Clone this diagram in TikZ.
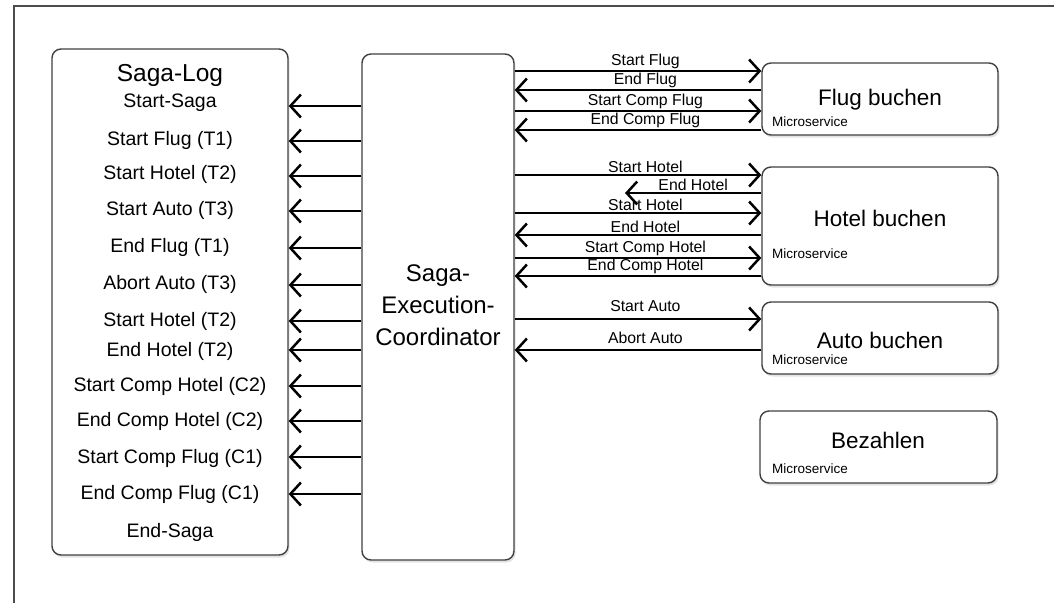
\documentclass[tikz,border=0pt]{standalone}
\usepackage{fontspec}
\setmainfont{Liberation Sans}
\usetikzlibrary{arrows.meta,positioning,shadows}
\tikzset{
  frame/.style={draw=black!70, line width=2pt},
  box/.style={draw=black!75, line width=1.4pt, rounded corners=9pt, fill=white,
              drop shadow={opacity=0.22, shadow xshift=1.5pt, shadow yshift=-2.5pt}},
  logtxt/.style={font=\fontsize{19.5}{22}\selectfont, inner sep=0pt},
  logtitle/.style={font=\fontsize{24.5}{28}\selectfont, inner sep=0pt},
  headtxt/.style={font=\fontsize{22.5}{26}\selectfont, inner sep=0pt},
  coordtxt/.style={font=\fontsize{24}{32}\selectfont, align=center, inner sep=0pt},
  svctag/.style={font=\fontsize{13.5}{15}\selectfont, anchor=west, inner sep=0pt},
  msglbl/.style={font=\fontsize{15.8}{18}\selectfont, inner sep=0.5pt, above},
  msg/.style={line width=2.8pt, draw=black,
              -{Straight Barb[length=10.5pt, width=23pt, line width=2.5pt]}},
}

\begin{document}
\begin{tikzpicture}[x=1pt, y=-1pt]
  \useasboundingbox (0,0) rectangle (1054,603);

  % ── outer frame (only top and left edge visible) ──
  \draw[frame] (14,603) -- (14,6) -- (1054,6);

  % ── main boxes ──
  \node[box, minimum width=236pt, minimum height=506pt] (log) at (170,302) {};
  \node[box, minimum width=152pt, minimum height=506pt] (sec) at (438,307) {};
  \node[box, minimum width=236pt, minimum height=72pt]  (flug)  at (880,99) {};
  \node[box, minimum width=236pt, minimum height=118pt] (hotel) at (880,226) {};
  \node[box, minimum width=236pt, minimum height=72pt]  (auto)  at (880,338) {};
  \node[box, minimum width=237pt, minimum height=72pt]  (pay)   at (878.5,447) {};

  % ── Saga-Log entries ──
  \node[logtitle] (logt) at (170,75) {Saga-Log};
  \node[logtxt] (lg0)  at (170,103) {Start-Saga};
  \node[logtxt] (lg1)  at (170,140) {Start Flug (T1)};
  \node[logtxt] (lg2)  at (170,174) {Start Hotel (T2)};
  \node[logtxt] (lg3)  at (170,210) {Start Auto (T3)};
  \node[logtxt] (lg4)  at (170,247) {End Flug (T1)};
  \node[logtxt] (lg5)  at (170,284) {Abort Auto (T3)};
  \node[logtxt] (lg6)  at (170,321) {Start Hotel (T2)};
  \node[logtxt] (lg7)  at (170,351) {End Hotel (T2)};
  \node[logtxt] (lg8)  at (170,386) {Start Comp Hotel (C2)};
  \node[logtxt] (lg9)  at (170,421) {End Comp Hotel (C2)};
  \node[logtxt] (lg10) at (170,458) {Start Comp Flug (C1)};
  \node[logtxt] (lg11) at (170,494) {End Comp Flug (C1)};
  \node[logtxt] (lg12) at (170,532) {End-Saga};

  % ── coordinator text ──
  \node[coordtxt] (sectxt) at (438,305) {Saga-\\Execution-\\Coordinator};

  % ── service titles ──
  \node[headtxt] (flugt)  at (880,100) {Flug buchen};
  \node[headtxt] (hotelt) at (880,218) {Hotel buchen};
  \node[headtxt] (autot)  at (880,340) {Auto buchen};
  \node[headtxt] (payt)   at (878,440) {Bezahlen};
  \node[svctag] (flugm)  at (772,122) {Microservice};
  \node[svctag] (hotelm) at (772,254) {Microservice};
  \node[svctag] (autom)  at (772,360) {Microservice};
  \node[svctag] (paym)   at (772,469) {Microservice};

  % ── log writes: coordinator -> Saga-Log ──
  \foreach \y in {106,141,176,211,248,285,321,350,386,421,457,494} {
    \coordinate (w) at (0,\y);
    \draw[msg] (sec.west |- w) -- (log.east |- w);
  }

  % ── Flug messages ──
  \coordinate (m1) at (0,71);
  \coordinate (m2) at (0,90);
  \coordinate (m3) at (0,111);
  \coordinate (m4) at (0,130);
  \draw[msg] (sec.east |- m1) -- (flug.west |- m1) node[msglbl, pos=0.53] {Start Flug};
  \draw[msg] (flug.west |- m2) -- (sec.east |- m2) node[msglbl, pos=0.47] {End Flug};
  \draw[msg] (sec.east |- m3) -- (flug.west |- m3) node[msglbl, pos=0.53] {Start Comp Flug};
  \draw[msg] (flug.west |- m4) -- (sec.east |- m4) node[msglbl, pos=0.47] {End Comp Flug};

  % ── Hotel messages ──
  \coordinate (h1) at (0,175);
  \coordinate (eh) at (625,193);
  \coordinate (h3) at (0,213);
  \coordinate (h4) at (0,235);
  \coordinate (h5) at (0,258);
  \coordinate (h6) at (0,276);
  \draw[msg] (sec.east |- h1) -- (hotel.west |- h1) node[msglbl, pos=0.53] {Start Hotel};
  \draw[msg] (hotel.west |- eh) -- (eh) node[msglbl, pos=0.5] {End Hotel};
  \draw[msg] (sec.east |- h3) -- (hotel.west |- h3) node[msglbl, pos=0.53] {Start Hotel};
  \draw[msg] (hotel.west |- h4) -- (sec.east |- h4) node[msglbl, pos=0.47] {End Hotel};
  \draw[msg] (sec.east |- h5) -- (hotel.west |- h5) node[msglbl, pos=0.53] {Start Comp Hotel};
  \draw[msg] (hotel.west |- h6) -- (sec.east |- h6) node[msglbl, pos=0.47] {End Comp Hotel};

  % ── Auto messages ──
  \coordinate (a1) at (0,319);
  \coordinate (a2) at (0,350);
  \draw[msg] (sec.east |- a1) -- (auto.west |- a1) node[msglbl, pos=0.53, yshift=5pt] {Start Auto};
  \draw[msg] (auto.west |- a2) -- (sec.east |- a2) node[msglbl, pos=0.47, yshift=4pt] {Abort Auto};
\end{tikzpicture}
\end{document}
